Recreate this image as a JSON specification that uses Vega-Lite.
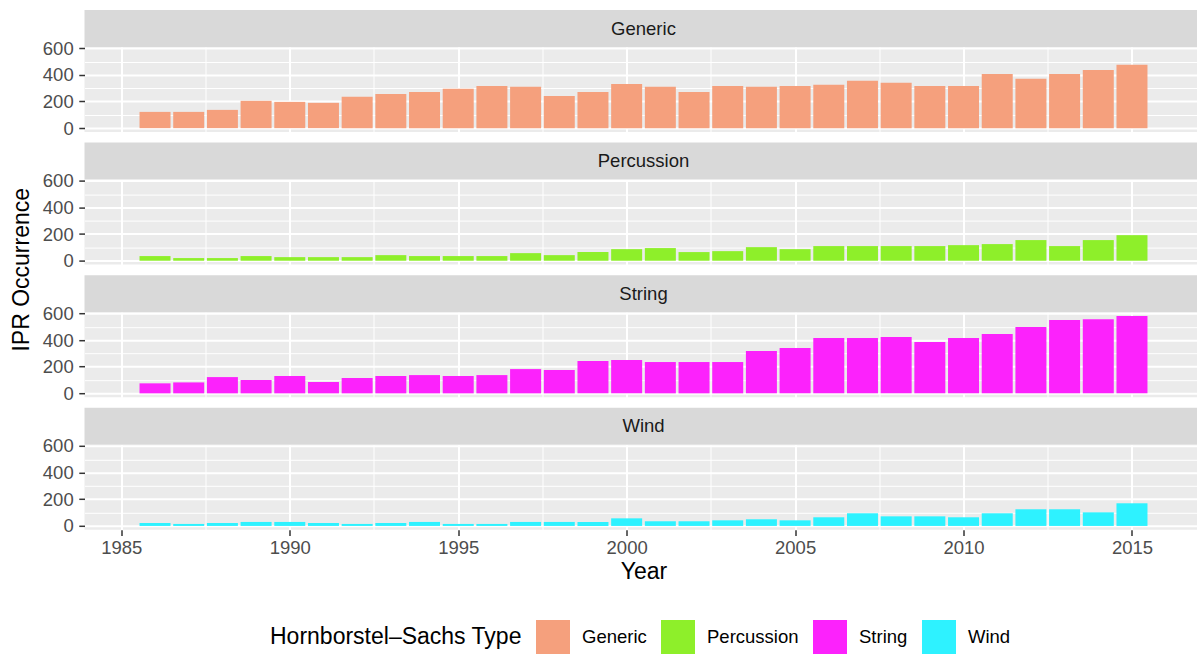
{
  "$schema": "https://vega.github.io/schema/vega-lite/v6.json",
  "padding": {"left": 10.5, "top": 10, "right": 0, "bottom": 0},
  "background": "#FFFFFF",
  "spacing": 7,
  "data": {"values": [
    {"Type": "Generic", "Year": 1986, "IPR": 122}, {"Type": "Generic", "Year": 1987, "IPR": 122}, {"Type": "Generic", "Year": 1988, "IPR": 137}, {"Type": "Generic", "Year": 1989, "IPR": 205}, {"Type": "Generic", "Year": 1990, "IPR": 197}, {"Type": "Generic", "Year": 1991, "IPR": 190}, {"Type": "Generic", "Year": 1992, "IPR": 235}, {"Type": "Generic", "Year": 1993, "IPR": 257}, {"Type": "Generic", "Year": 1994, "IPR": 272}, {"Type": "Generic", "Year": 1995, "IPR": 295}, {"Type": "Generic", "Year": 1996, "IPR": 317}, {"Type": "Generic", "Year": 1997, "IPR": 310}, {"Type": "Generic", "Year": 1998, "IPR": 242}, {"Type": "Generic", "Year": 1999, "IPR": 272}, {"Type": "Generic", "Year": 2000, "IPR": 332}, {"Type": "Generic", "Year": 2001, "IPR": 310}, {"Type": "Generic", "Year": 2002, "IPR": 272}, {"Type": "Generic", "Year": 2003, "IPR": 317}, {"Type": "Generic", "Year": 2004, "IPR": 310}, {"Type": "Generic", "Year": 2005, "IPR": 317}, {"Type": "Generic", "Year": 2006, "IPR": 325}, {"Type": "Generic", "Year": 2007, "IPR": 355}, {"Type": "Generic", "Year": 2008, "IPR": 340}, {"Type": "Generic", "Year": 2009, "IPR": 317}, {"Type": "Generic", "Year": 2010, "IPR": 317}, {"Type": "Generic", "Year": 2011, "IPR": 407}, {"Type": "Generic", "Year": 2012, "IPR": 370}, {"Type": "Generic", "Year": 2013, "IPR": 407}, {"Type": "Generic", "Year": 2014, "IPR": 437}, {"Type": "Generic", "Year": 2015, "IPR": 475},
    {"Type": "Percussion", "Year": 1986, "IPR": 35}, {"Type": "Percussion", "Year": 1987, "IPR": 20}, {"Type": "Percussion", "Year": 1988, "IPR": 20}, {"Type": "Percussion", "Year": 1989, "IPR": 35}, {"Type": "Percussion", "Year": 1990, "IPR": 27}, {"Type": "Percussion", "Year": 1991, "IPR": 27}, {"Type": "Percussion", "Year": 1992, "IPR": 27}, {"Type": "Percussion", "Year": 1993, "IPR": 42}, {"Type": "Percussion", "Year": 1994, "IPR": 35}, {"Type": "Percussion", "Year": 1995, "IPR": 35}, {"Type": "Percussion", "Year": 1996, "IPR": 35}, {"Type": "Percussion", "Year": 1997, "IPR": 57}, {"Type": "Percussion", "Year": 1998, "IPR": 42}, {"Type": "Percussion", "Year": 1999, "IPR": 65}, {"Type": "Percussion", "Year": 2000, "IPR": 87}, {"Type": "Percussion", "Year": 2001, "IPR": 95}, {"Type": "Percussion", "Year": 2002, "IPR": 65}, {"Type": "Percussion", "Year": 2003, "IPR": 72}, {"Type": "Percussion", "Year": 2004, "IPR": 102}, {"Type": "Percussion", "Year": 2005, "IPR": 87}, {"Type": "Percussion", "Year": 2006, "IPR": 110}, {"Type": "Percussion", "Year": 2007, "IPR": 110}, {"Type": "Percussion", "Year": 2008, "IPR": 110}, {"Type": "Percussion", "Year": 2009, "IPR": 110}, {"Type": "Percussion", "Year": 2010, "IPR": 117}, {"Type": "Percussion", "Year": 2011, "IPR": 125}, {"Type": "Percussion", "Year": 2012, "IPR": 155}, {"Type": "Percussion", "Year": 2013, "IPR": 110}, {"Type": "Percussion", "Year": 2014, "IPR": 155}, {"Type": "Percussion", "Year": 2015, "IPR": 192},
    {"Type": "String", "Year": 1986, "IPR": 75}, {"Type": "String", "Year": 1987, "IPR": 82}, {"Type": "String", "Year": 1988, "IPR": 122}, {"Type": "String", "Year": 1989, "IPR": 100}, {"Type": "String", "Year": 1990, "IPR": 130}, {"Type": "String", "Year": 1991, "IPR": 85}, {"Type": "String", "Year": 1992, "IPR": 115}, {"Type": "String", "Year": 1993, "IPR": 130}, {"Type": "String", "Year": 1994, "IPR": 137}, {"Type": "String", "Year": 1995, "IPR": 130}, {"Type": "String", "Year": 1996, "IPR": 137}, {"Type": "String", "Year": 1997, "IPR": 182}, {"Type": "String", "Year": 1998, "IPR": 175}, {"Type": "String", "Year": 1999, "IPR": 242}, {"Type": "String", "Year": 2000, "IPR": 250}, {"Type": "String", "Year": 2001, "IPR": 235}, {"Type": "String", "Year": 2002, "IPR": 235}, {"Type": "String", "Year": 2003, "IPR": 235}, {"Type": "String", "Year": 2004, "IPR": 317}, {"Type": "String", "Year": 2005, "IPR": 340}, {"Type": "String", "Year": 2006, "IPR": 415}, {"Type": "String", "Year": 2007, "IPR": 415}, {"Type": "String", "Year": 2008, "IPR": 422}, {"Type": "String", "Year": 2009, "IPR": 385}, {"Type": "String", "Year": 2010, "IPR": 415}, {"Type": "String", "Year": 2011, "IPR": 445}, {"Type": "String", "Year": 2012, "IPR": 497}, {"Type": "String", "Year": 2013, "IPR": 550}, {"Type": "String", "Year": 2014, "IPR": 557}, {"Type": "String", "Year": 2015, "IPR": 580},
    {"Type": "Wind", "Year": 1986, "IPR": 22}, {"Type": "Wind", "Year": 1987, "IPR": 15}, {"Type": "Wind", "Year": 1988, "IPR": 22}, {"Type": "Wind", "Year": 1989, "IPR": 30}, {"Type": "Wind", "Year": 1990, "IPR": 30}, {"Type": "Wind", "Year": 1991, "IPR": 22}, {"Type": "Wind", "Year": 1992, "IPR": 15}, {"Type": "Wind", "Year": 1993, "IPR": 22}, {"Type": "Wind", "Year": 1994, "IPR": 30}, {"Type": "Wind", "Year": 1995, "IPR": 15}, {"Type": "Wind", "Year": 1996, "IPR": 15}, {"Type": "Wind", "Year": 1997, "IPR": 30}, {"Type": "Wind", "Year": 1998, "IPR": 30}, {"Type": "Wind", "Year": 1999, "IPR": 30}, {"Type": "Wind", "Year": 2000, "IPR": 57}, {"Type": "Wind", "Year": 2001, "IPR": 35}, {"Type": "Wind", "Year": 2002, "IPR": 35}, {"Type": "Wind", "Year": 2003, "IPR": 42}, {"Type": "Wind", "Year": 2004, "IPR": 50}, {"Type": "Wind", "Year": 2005, "IPR": 42}, {"Type": "Wind", "Year": 2006, "IPR": 65}, {"Type": "Wind", "Year": 2007, "IPR": 95}, {"Type": "Wind", "Year": 2008, "IPR": 72}, {"Type": "Wind", "Year": 2009, "IPR": 72}, {"Type": "Wind", "Year": 2010, "IPR": 65}, {"Type": "Wind", "Year": 2011, "IPR": 95}, {"Type": "Wind", "Year": 2012, "IPR": 125}, {"Type": "Wind", "Year": 2013, "IPR": 125}, {"Type": "Wind", "Year": 2014, "IPR": 102}, {"Type": "Wind", "Year": 2015, "IPR": 170}
  ]},
  "hconcat": [
    {"width": 23, "height": 519.5,
     "transform": [{"aggregate": [{"op": "count", "as": "n"}]}],
     "mark": {"type": "text", "angle": 270, "fontSize": 23, "color": "#000000", "font": "Liberation Sans", "baseline": "middle", "align": "center"},
     "encoding": {"text": {"value": "IPR Occurrence"}}},
    {"spacing": 4.6, "vconcat": [
    {"spacing": -8, "vconcat": [
      {"width": 1118, "height": 37, "view": {"fill": "#D9D9D9", "stroke": null},
       "transform": [{"filter": "datum.Type === 'Generic'"}, {"aggregate": [{"op": "count", "as": "n"}], "groupby": ["Type"]}],
       "mark": {"type": "text", "fontSize": 18.5, "color": "#1A1A1A", "font": "Liberation Sans"},
       "encoding": {"text": {"field": "Type", "type": "nominal"}}},
      {"width": 1118, "height": 85, "view": {"fill": "#EBEBEB", "stroke": null},
       "transform": [{"filter": "datum.Type === 'Generic'"}],
       "layer": [
         {"mark": {"type": "bar", "opacity": 0, "width": 31},
          "encoding": {
            "x": {"field": "Year", "type": "quantitative", "scale": {"domain": [1984.055, 2016.945], "nice": false, "zero": false}, "axis": {"orient": "bottom", "values": [1987.5, 1992.5, 1997.5, 2002.5, 2007.5, 2012.5], "grid": true, "gridWidth": 1, "labels": false, "ticks": false, "title": null}},
            "y": {"field": "IPR", "type": "quantitative", "scale": {"domain": [-29, 609], "nice": false}, "axis": {"orient": "left", "values": [100, 300, 500], "grid": true, "gridWidth": 1, "labels": false, "ticks": false, "title": null}}}},
         {"mark": {"type": "bar", "width": 31},
          "encoding": {
            "x": {"field": "Year", "type": "quantitative", "scale": {"domain": [1984.055, 2016.945], "nice": false, "zero": false}, "axis": {"orient": "bottom", "values": [1985, 1990, 1995, 2000, 2005, 2010, 2015], "grid": true, "gridWidth": 2, "labels": false, "ticks": false, "title": null}},
            "y": {"field": "IPR", "type": "quantitative", "scale": {"domain": [-29, 609], "nice": false}, "axis": {"orient": "left", "values": [0, 200, 400, 600], "grid": true, "gridWidth": 2, "title": null}},
            "color": {"field": "Type", "type": "nominal", "scale": {"domain": ["Generic", "Percussion", "String", "Wind"], "range": ["#F5A07D", "#8EEF2A", "#FC22FC", "#2EF2FF"]}, "title": "Hornborstel–Sachs Type"}}}
       ],
       "resolve": {"axis": {"x": "independent", "y": "independent"}}}
    ]},
    {"spacing": -8, "vconcat": [
      {"width": 1118, "height": 37, "view": {"fill": "#D9D9D9", "stroke": null},
       "transform": [{"filter": "datum.Type === 'Percussion'"}, {"aggregate": [{"op": "count", "as": "n"}], "groupby": ["Type"]}],
       "mark": {"type": "text", "fontSize": 18.5, "color": "#1A1A1A", "font": "Liberation Sans"},
       "encoding": {"text": {"field": "Type", "type": "nominal"}}},
      {"width": 1118, "height": 85, "view": {"fill": "#EBEBEB", "stroke": null},
       "transform": [{"filter": "datum.Type === 'Percussion'"}],
       "layer": [
         {"mark": {"type": "bar", "opacity": 0, "width": 31},
          "encoding": {
            "x": {"field": "Year", "type": "quantitative", "scale": {"domain": [1984.055, 2016.945], "nice": false, "zero": false}, "axis": {"orient": "bottom", "values": [1987.5, 1992.5, 1997.5, 2002.5, 2007.5, 2012.5], "grid": true, "gridWidth": 1, "labels": false, "ticks": false, "title": null}},
            "y": {"field": "IPR", "type": "quantitative", "scale": {"domain": [-29, 609], "nice": false}, "axis": {"orient": "left", "values": [100, 300, 500], "grid": true, "gridWidth": 1, "labels": false, "ticks": false, "title": null}}}},
         {"mark": {"type": "bar", "width": 31},
          "encoding": {
            "x": {"field": "Year", "type": "quantitative", "scale": {"domain": [1984.055, 2016.945], "nice": false, "zero": false}, "axis": {"orient": "bottom", "values": [1985, 1990, 1995, 2000, 2005, 2010, 2015], "grid": true, "gridWidth": 2, "labels": false, "ticks": false, "title": null}},
            "y": {"field": "IPR", "type": "quantitative", "scale": {"domain": [-29, 609], "nice": false}, "axis": {"orient": "left", "values": [0, 200, 400, 600], "grid": true, "gridWidth": 2, "title": null}},
            "color": {"field": "Type", "type": "nominal", "scale": {"domain": ["Generic", "Percussion", "String", "Wind"], "range": ["#F5A07D", "#8EEF2A", "#FC22FC", "#2EF2FF"]}, "title": "Hornborstel–Sachs Type"}}}
       ],
       "resolve": {"axis": {"x": "independent", "y": "independent"}}}
    ]},
    {"spacing": -8, "vconcat": [
      {"width": 1118, "height": 37, "view": {"fill": "#D9D9D9", "stroke": null},
       "transform": [{"filter": "datum.Type === 'String'"}, {"aggregate": [{"op": "count", "as": "n"}], "groupby": ["Type"]}],
       "mark": {"type": "text", "fontSize": 18.5, "color": "#1A1A1A", "font": "Liberation Sans"},
       "encoding": {"text": {"field": "Type", "type": "nominal"}}},
      {"width": 1118, "height": 85, "view": {"fill": "#EBEBEB", "stroke": null},
       "transform": [{"filter": "datum.Type === 'String'"}],
       "layer": [
         {"mark": {"type": "bar", "opacity": 0, "width": 31},
          "encoding": {
            "x": {"field": "Year", "type": "quantitative", "scale": {"domain": [1984.055, 2016.945], "nice": false, "zero": false}, "axis": {"orient": "bottom", "values": [1987.5, 1992.5, 1997.5, 2002.5, 2007.5, 2012.5], "grid": true, "gridWidth": 1, "labels": false, "ticks": false, "title": null}},
            "y": {"field": "IPR", "type": "quantitative", "scale": {"domain": [-29, 609], "nice": false}, "axis": {"orient": "left", "values": [100, 300, 500], "grid": true, "gridWidth": 1, "labels": false, "ticks": false, "title": null}}}},
         {"mark": {"type": "bar", "width": 31},
          "encoding": {
            "x": {"field": "Year", "type": "quantitative", "scale": {"domain": [1984.055, 2016.945], "nice": false, "zero": false}, "axis": {"orient": "bottom", "values": [1985, 1990, 1995, 2000, 2005, 2010, 2015], "grid": true, "gridWidth": 2, "labels": false, "ticks": false, "title": null}},
            "y": {"field": "IPR", "type": "quantitative", "scale": {"domain": [-29, 609], "nice": false}, "axis": {"orient": "left", "values": [0, 200, 400, 600], "grid": true, "gridWidth": 2, "title": null}},
            "color": {"field": "Type", "type": "nominal", "scale": {"domain": ["Generic", "Percussion", "String", "Wind"], "range": ["#F5A07D", "#8EEF2A", "#FC22FC", "#2EF2FF"]}, "title": "Hornborstel–Sachs Type"}}}
       ],
       "resolve": {"axis": {"x": "independent", "y": "independent"}}}
    ]},
    {"spacing": -8, "vconcat": [
      {"width": 1118, "height": 37, "view": {"fill": "#D9D9D9", "stroke": null},
       "transform": [{"filter": "datum.Type === 'Wind'"}, {"aggregate": [{"op": "count", "as": "n"}], "groupby": ["Type"]}],
       "mark": {"type": "text", "fontSize": 18.5, "color": "#1A1A1A", "font": "Liberation Sans"},
       "encoding": {"text": {"field": "Type", "type": "nominal"}}},
      {"width": 1118, "height": 85, "view": {"fill": "#EBEBEB", "stroke": null},
       "transform": [{"filter": "datum.Type === 'Wind'"}],
       "layer": [
         {"mark": {"type": "bar", "opacity": 0, "width": 31},
          "encoding": {
            "x": {"field": "Year", "type": "quantitative", "scale": {"domain": [1984.055, 2016.945], "nice": false, "zero": false}, "axis": {"orient": "top", "values": [1987.5, 1992.5, 1997.5, 2002.5, 2007.5, 2012.5], "grid": true, "gridWidth": 1, "labels": false, "ticks": false, "title": null}},
            "y": {"field": "IPR", "type": "quantitative", "scale": {"domain": [-29, 609], "nice": false}, "axis": {"orient": "left", "values": [100, 300, 500], "grid": true, "gridWidth": 1, "labels": false, "ticks": false, "title": null}}}},
         {"mark": {"type": "bar", "width": 31},
          "encoding": {
            "x": {"field": "Year", "type": "quantitative", "scale": {"domain": [1984.055, 2016.945], "nice": false, "zero": false}, "axis": {"orient": "bottom", "values": [1985, 1990, 1995, 2000, 2005, 2010, 2015], "grid": true, "gridWidth": 2, "format": "d", "title": "Year", "labelPadding": 3, "titlePadding": 3}},
            "y": {"field": "IPR", "type": "quantitative", "scale": {"domain": [-29, 609], "nice": false}, "axis": {"orient": "left", "values": [0, 200, 400, 600], "grid": true, "gridWidth": 2, "title": null}},
            "color": {"field": "Type", "type": "nominal", "scale": {"domain": ["Generic", "Percussion", "String", "Wind"], "range": ["#F5A07D", "#8EEF2A", "#FC22FC", "#2EF2FF"]}, "title": "Hornborstel–Sachs Type"}}}
       ],
       "resolve": {"axis": {"x": "independent", "y": "independent"}}}
    ]}
    ]}
  ],
  "config": {
    "font": "Liberation Sans",
    "view": {"stroke": null},
    "axis": {"gridColor": "#FFFFFF", "gridOpacity": 1, "domain": false, "tickColor": "#333333", "tickSize": 5.7, "tickWidth": 1.5, "labelColor": "#4D4D4D", "labelFontSize": 18.5, "labelFont": "Liberation Sans", "titleFont": "Liberation Sans", "titleFontSize": 23, "titleFontWeight": "normal", "titleColor": "#000000", "labelPadding": 5.6},
    "legend": {"orient": "none", "legendX": 259.5, "legendY": 610, "direction": "horizontal", "titleOrient": "left", "titleFontSize": 23, "titleFontWeight": "normal", "titleColor": "#000000", "titleFont": "Liberation Sans", "titlePadding": 14, "titleLimit": 400, "labelFontSize": 18.5, "labelColor": "#000000", "labelFont": "Liberation Sans", "labelOffset": 12, "columnPadding": 14, "symbolType": "square", "symbolSize": 1156, "symbolStrokeWidth": 0, "symbolOpacity": 1, "titleBaseline": "middle", "titleAnchor": "middle"}
  }
}
